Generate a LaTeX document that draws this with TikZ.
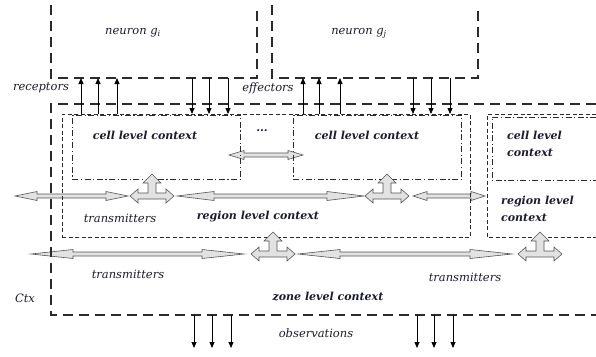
\documentclass[tikz,border=0pt]{standalone}
\usepackage{fontspec}
\setmainfont{DejaVu Serif}
\usetikzlibrary{arrows.meta,calc}
\pgfdeclarelayer{background}
\pgfsetlayers{background,main}
\definecolor{ctxInk}{HTML}{1B1B2F}
\definecolor{ctxLine}{HTML}{2B2B2B}
\definecolor{ctxFill}{HTML}{E2E2E2}
\definecolor{ctxEdge}{HTML}{555555}
\tikzset{
  ctx frame/.style={draw=ctxLine, line width=1.2pt, dash pattern=on 10pt off 6pt},
  ctx region/.style={draw=ctxLine, line width=0.8pt, dash pattern=on 4pt off 2.5pt, inner sep=0pt},
  ctx cell/.style={draw=ctxLine, line width=0.8pt, dash pattern=on 6pt off 2.5pt on 1.2pt off 2.5pt, inner sep=0pt},
  ctx signal/.style={draw=black, line width=0.8pt, -{Triangle[length=6pt,width=5pt]}},
  ctx shape/.style={draw=ctxEdge, fill=ctxFill, line width=0.6pt, line join=miter},
  ctx twoway/.style={ctx shape, to path={let \p1=(\tikztostart), \p2=(\tikztotarget) in
    (\p1) -- (\x1+#1,\y1+4.5pt) -- (\x1+#1,\y1+2pt) -- (\x2-#1,\y2+2pt) -- (\x2-#1,\y2+4.5pt)
    -- (\p2) -- (\x2-#1,\y2-4.5pt) -- (\x2-#1,\y2-2pt) -- (\x1+#1,\y1-2pt) -- (\x1+#1,\y1-4.5pt) -- cycle}},
  ctx hub/.pic={
    \draw[ctx shape] (-22,0) -- (-14,-7) -- (-14,-3) -- (-4,-3) -- (-4,-13) -- (-9,-13) -- (0,-22)
      -- (9,-13) -- (4,-13) -- (4,-3) -- (14,-3) -- (14,-7) -- (22,0) -- (14,7) -- (14,3)
      -- (-14,3) -- (-14,7) -- cycle;
    \coordinate (-w) at (-22,0);
    \coordinate (-e) at (22,0);
  },
  ctx label/.style={font=\itshape\fontsize{11.5}{14}\selectfont, text=ctxInk, inner sep=0pt},
  ctx title/.style={ctx label, font=\bfseries\itshape\fontsize{11}{17.5}\selectfont},
}

\begin{document}
\begin{tikzpicture}[x=1pt,y=-1pt]
  \useasboundingbox (0,0) rectangle (596,356);

  % neurons
  \draw[ctx frame] (51,5) -- (51,78) -- (257,78) -- (257,10);
  \draw[ctx frame] (272,5) -- (272,78) -- (478,78) -- (478,10);
  \coordinate (gi base) at (51,78);
  \coordinate (gj base) at (272,78);
  \node[ctx label] (gi) at (133,33) {neuron g\textsubscript{i}};
  \node[ctx label] (gj) at (359,33) {neuron g\textsubscript{j}};

  % zone, regions and cells
  \draw[ctx frame] (596,104) -- (51,104) -- (51,315) -- (596,315);
  \coordinate (zone base) at (51,315);
  \node[ctx region, minimum width=408pt, minimum height=123pt, anchor=north west] (rg1) at (62,114) {};
  \draw[ctx region] (596,114) -- (487,114) -- (487,237) -- (596,237);
  \coordinate (rg2 door) at (485,196);
  \node[ctx cell, minimum width=168pt, minimum height=64pt, anchor=north west] (cl1) at (72,115) {};
  \node[ctx cell, minimum width=168pt, minimum height=64pt, anchor=north west] (cl2) at (293,115) {};
  \draw[ctx cell] (596,117) -- (492,117) -- (492,180) -- (596,180);

  % receptors, effectors, observations
  \foreach \x in {81,98,117,303,319,340}
    \draw[ctx signal] (\x,0 |- rg1.north) -- (\x,0 |- gi base);
  \foreach \x in {192,209,228,413,431,450}
    \draw[ctx signal] (\x,0 |- gj base) -- (\x,0 |- rg1.north);
  \coordinate (obs end) at (0,348);
  \foreach \x in {194,212,231,417,434,453}
    \draw[ctx signal] (\x,0 |- zone base) -- (\x,0 |- obs end);

  % transmitters
  \pic (h1) at (152,196) {ctx hub};
  \pic (h2) at (387,196) {ctx hub};
  \pic (h3) at (273,254) {ctx hub};
  \pic (h4) at (540,254) {ctx hub};
  \coordinate (row1 end) at (15,196);
  \coordinate (row2 end) at (31,254);
  \coordinate (gap w) at (229,155);
  \coordinate (gap e) at (303,155);
  \begin{pgfonlayer}{background}
    \draw[ctx twoway=22pt] (row1 end) to ([xshift=-2pt]h1-w);
    \draw[ctx twoway=37pt] ([xshift=3pt]h1-e) to ([xshift=-1pt]h2-w);
    \draw[ctx twoway=14pt] ([xshift=4pt]h2-e) to (rg2 door);
    \draw[ctx twoway=42pt] (row2 end) to ([xshift=-7pt]h3-w);
    \draw[ctx twoway=42pt] ([xshift=3pt]h3-e) to ([xshift=-6pt]h4-w);
    \draw[ctx twoway=15pt] (gap w) to (gap e);
  \end{pgfonlayer}

  % texts
  \node[ctx label] (rcpt) at (41,88) {receptors};
  \node[ctx label] (effc) at (268,88) {effectors};
  \node[ctx title] (cl1 text) at (145,135) {cell level context};
  \node[ctx title] (dots) at (262,131) {...};
  \node[ctx title] (cl2 text) at (367,135) {cell level context};
  \node[ctx title, anchor=west, align=left] (cl3 text) at (507,144) {cell level\\context};
  \node[ctx title, anchor=west, align=left] (rg2 text) at (501,209) {region level\\context};
  \node[ctx label] (tx1) at (120,218) {transmitters};
  \node[ctx title] (rg1 text) at (258,217) {region level context};
  \node[ctx label] (tx2) at (128,274) {transmitters};
  \node[ctx label] (tx3) at (465,277) {transmitters};
  \node[ctx label] (ctx) at (25,298) {Ctx};
  \node[ctx title] (zone text) at (328,297) {zone level context};
  \node[ctx label] (obs) at (316,333) {observations};
\end{tikzpicture}
\end{document}
